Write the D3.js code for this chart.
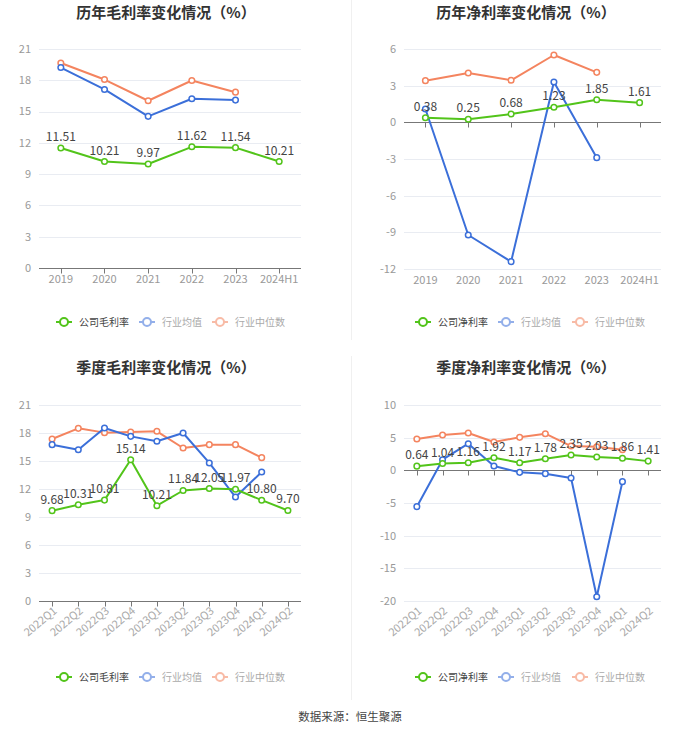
<!DOCTYPE html>
<html><head><meta charset="utf-8">
<script src="https://cdn.jsdelivr.net/npm/d3@7"></script>
<style>body{margin:0;background:#fff;}svg{display:block;font-family:"Noto Sans CJK SC","Noto Sans",sans-serif;}</style>
</head><body><svg id="c" width="700" height="734"></svg>
<script>
// ---- data ----
const yearCats = ["2019","2020","2021","2022","2023","2024H1"];
const quarterCats = ["2022Q1","2022Q2","2022Q3","2022Q4","2023Q1","2023Q2","2023Q3","2023Q4","2024Q1","2024Q2"];

const annualGrossCompany = [11.51,10.21,9.97,11.62,11.54,10.21];
const annualGrossAvg     = [19.22,17.12,14.54,16.23,16.10];
const annualGrossMedian  = [19.66,18.07,16.04,17.98,16.86];

const annualNetCompany = [0.38,0.25,0.68,1.23,1.85,1.61];
const annualNetAvg     = [1.09,-9.22,-11.40,3.30,-2.89];
const annualNetMedian  = [3.41,4.04,3.44,5.51,4.09];

const qGrossCompany = [9.68,10.31,10.81,15.14,10.21,11.84,12.05,11.97,10.80,9.70];
const qGrossAvg     = [16.75,16.21,18.54,17.64,17.11,18.00,14.79,11.14,13.82];
const qGrossMedian  = [17.36,18.50,18.04,18.11,18.18,16.39,16.75,16.75,15.36];

const qNetCompany = [0.64,1.04,1.16,1.92,1.17,1.78,2.35,2.03,1.86,1.41];
const qNetAvg     = [-5.56,1.63,4.08,0.66,-0.31,-0.51,-1.17,-19.34,-1.73];
const qNetMedian  = [4.80,5.41,5.71,4.34,5.05,5.61,3.72,3.62,3.16];

const grossTicks = [0,3,6,9,12,15,18,21];
const annualNetTicks = [-12,-9,-6,-3,0,3,6];
const qNetTicks = [-20,-15,-10,-5,0,5,10];

const titles = ["历年毛利率变化情况（%）","历年净利率变化情况（%）","季度毛利率变化情况（%）","季度净利率变化情况（%）"];
const legendGross = ["公司毛利率","行业均值","行业中位数"];
const legendNet = ["公司净利率","行业均值","行业中位数"];
const sourceText = "数据来源：恒生聚源";

// ---- style ----
const GREEN = "#52c41a", BLUE = "#3b6fd9", ORANGE = "#f4845f";
const svg = d3.select("#c");

// dividers
svg.append("line").attr("x1",351.5).attr("x2",351.5).attr("y1",0).attr("y2",340).attr("stroke","#f0f0f0");
svg.append("line").attr("x1",351.5).attr("x2",351.5).attr("y1",356).attr("y2",700).attr("stroke","#f0f0f0");

const panels = [
  {title:titles[0], tx:166, ty:18, cats:yearCats, xr:[39,301], dom:[0,21], yr:[268,49], ticks:grossTicks,
   series:[annualGrossCompany,annualGrossAvg,annualGrossMedian], legend:legendGross, ly:322, lx:[56,139,212], rot:false},
  {title:titles[1], tx:526, ty:18, cats:yearCats, xr:[404,661], dom:[-12,6], yr:[269,49], ticks:annualNetTicks,
   series:[annualNetCompany,annualNetAvg,annualNetMedian], legend:legendNet, ly:322, lx:[415,498,572], rot:false},
  {title:titles[2], tx:166, ty:373, cats:quarterCats, xr:[39,301], dom:[0,21], yr:[601,405], ticks:grossTicks,
   series:[qGrossCompany,qGrossAvg,qGrossMedian], legend:legendGross, ly:677, lx:[56,139,212], rot:true},
  {title:titles[3], tx:526, ty:373, cats:quarterCats, xr:[404,661], dom:[-20,10], yr:[601,405], ticks:qNetTicks,
   series:[qNetCompany,qNetAvg,qNetMedian], legend:legendNet, ly:677, lx:[415,498,572], rot:true}
];

panels.forEach(p => {
  const g = svg.append("g");
  g.append("text").attr("x",p.tx).attr("y",p.ty).attr("text-anchor","middle")
    .attr("font-size",15).attr("font-weight","bold").attr("fill","#333").text(p.title);

  const x = d3.scaleBand().domain(p.cats).range(p.xr);
  const y = d3.scaleLinear().domain(p.dom).range(p.yr);
  const cx = d => x(d) + x.bandwidth()/2;

  // grid
  g.selectAll(".grid").data(p.ticks).join("line")
    .attr("x1",p.xr[0]).attr("x2",p.xr[1])
    .attr("y1",d=>Math.round(y(d))+0.5).attr("y2",d=>Math.round(y(d))+0.5)
    .attr("stroke","#e9ecf2").attr("stroke-width",1);

  // y labels
  g.selectAll(".yl").data(p.ticks).join("text")
    .attr("x",p.xr[0]-8).attr("y",d=>y(d)).attr("dy","0.35em")
    .attr("text-anchor","end").attr("font-size",11).attr("fill","#999").text(d=>d);

  // axis line at zero
  const y0 = Math.round(y(0))+0.5;
  g.append("line").attr("x1",p.xr[0]).attr("x2",p.xr[1]).attr("y1",y0).attr("y2",y0).attr("stroke","#777").attr("stroke-width",1);
  g.selectAll(".tk").data(p.cats).join("line")
    .attr("x1",d=>Math.round(cx(d))+0.5).attr("x2",d=>Math.round(cx(d))+0.5)
    .attr("y1",y0).attr("y2",y0+5).attr("stroke","#777");

  // x labels at bottom
  const yb = p.yr[0];
  if (!p.rot) {
    g.selectAll(".xl").data(p.cats).join("text")
      .attr("x",cx).attr("y",yb+15).attr("text-anchor","middle")
      .attr("font-size",11).attr("fill","#999").text(d=>d);
  } else {
    g.selectAll(".xl").data(p.cats).join("text")
      .attr("transform",d=>`translate(${cx(d)+3},${yb+8}) rotate(-40)`)
      .attr("text-anchor","end").attr("dy","0.35em")
      .attr("font-size",11).attr("fill","#aaa").text(d=>d);
  }

  // lines (draw medians, avg, then company)
  const colors = [GREEN,BLUE,ORANGE];
  [2,1,0].forEach(i => {
    const data = p.series[i].map((v,k)=>({c:p.cats[k], v}));
    const line = d3.line().x(d=>cx(d.c)).y(d=>y(d.v));
    g.append("path").datum(data).attr("d",line).attr("fill","none")
      .attr("stroke",colors[i]).attr("stroke-width",2).attr("stroke-linejoin","round");
    g.selectAll(".pt"+i).data(data).join("circle")
      .attr("cx",d=>cx(d.c)).attr("cy",d=>y(d.v)).attr("r",2.8)
      .attr("fill","#fff").attr("stroke",colors[i]).attr("stroke-width",1.5);
  });

  // data labels for company
  const comp = p.series[0].map((v,k)=>({c:p.cats[k], v}));
  g.selectAll(".dl").data(comp).join("text")
    .attr("x",d=>cx(d.c)).attr("y",d=>y(d.v)-7).attr("text-anchor","middle")
    .attr("font-size",12).attr("fill","#444").text(d=>d.v.toFixed(2));

  // legend
  p.legend.forEach((name,i) => {
    const lx = p.lx[i], ly = p.ly;
    const op = i===0 ? 1 : 0.55;
    const lg = g.append("g").attr("opacity",op);
    lg.append("line").attr("x1",lx).attr("x2",lx+16).attr("y1",ly).attr("y2",ly)
      .attr("stroke",colors[i]).attr("stroke-width",2);
    lg.append("circle").attr("cx",lx+8).attr("cy",ly).attr("r",4)
      .attr("fill","#fff").attr("stroke",colors[i]).attr("stroke-width",2);
    g.append("text").attr("x",lx+23).attr("y",ly).attr("dy","0.35em")
      .attr("font-size",10).attr("fill", i===0 ? "#444" : "#aaa").text(name);
  });
});

svg.append("text").attr("x",350).attr("y",721).attr("text-anchor","middle")
  .attr("font-size",11.5).attr("fill","#444").text(sourceText);
</script>
</body></html>
